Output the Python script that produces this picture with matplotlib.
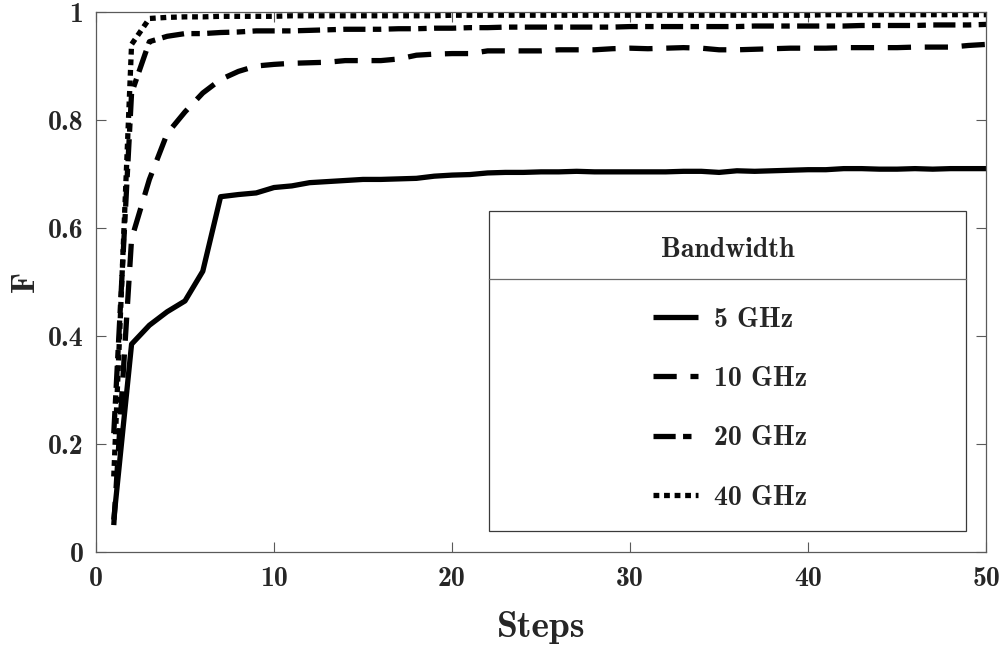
import matplotlib
matplotlib.use("Agg")
import matplotlib.pyplot as plt
from matplotlib.patches import Rectangle
from matplotlib.lines import Line2D

steps = list(range(1, 51))

f_5ghz = [0.06, 0.385, 0.42, 0.445, 0.465, 0.52, 0.658, 0.662, 0.665, 0.675,
          0.678, 0.684, 0.686, 0.688, 0.690, 0.690, 0.691, 0.692, 0.696, 0.698,
          0.699, 0.702, 0.703, 0.703, 0.704, 0.704, 0.705, 0.704, 0.704, 0.704,
          0.704, 0.704, 0.705, 0.705, 0.703, 0.706, 0.705, 0.706, 0.707, 0.708,
          0.708, 0.710, 0.710, 0.709, 0.709, 0.710, 0.709, 0.710, 0.710, 0.710]

f_10ghz = [0.05, 0.58, 0.69, 0.775, 0.815, 0.85, 0.875, 0.89, 0.90, 0.903,
           0.905, 0.906, 0.907, 0.910, 0.910, 0.910, 0.913, 0.920, 0.922, 0.923,
           0.923, 0.928, 0.928, 0.928, 0.928, 0.930, 0.930, 0.930, 0.932, 0.933,
           0.932, 0.933, 0.934, 0.933, 0.930, 0.930, 0.931, 0.932, 0.933, 0.933,
           0.933, 0.934, 0.934, 0.934, 0.934, 0.935, 0.935, 0.935, 0.938, 0.940]

f_20ghz = [0.22, 0.85, 0.945, 0.955, 0.960, 0.960, 0.962, 0.963, 0.965, 0.965,
           0.965, 0.966, 0.967, 0.968, 0.968, 0.968, 0.969, 0.969, 0.970, 0.970,
           0.971, 0.971, 0.972, 0.972, 0.972, 0.972, 0.972, 0.972, 0.972, 0.973,
           0.973, 0.973, 0.973, 0.973, 0.973, 0.973, 0.974, 0.974, 0.974, 0.974,
           0.974, 0.974, 0.975, 0.975, 0.975, 0.975, 0.976, 0.976, 0.976, 0.977]

f_40ghz = [0.14, 0.94, 0.988, 0.990, 0.991, 0.991, 0.992, 0.992, 0.992, 0.992,
           0.993, 0.993, 0.993, 0.993, 0.993, 0.993, 0.993, 0.993, 0.993, 0.994,
           0.994, 0.994, 0.994, 0.994, 0.994, 0.994, 0.994, 0.994, 0.994, 0.994,
           0.994, 0.994, 0.994, 0.994, 0.994, 0.994, 0.994, 0.994, 0.994, 0.994,
           0.995, 0.995, 0.995, 0.995, 0.995, 0.995, 0.995, 0.995, 0.995, 0.995]

labels = ["5 GHz", "10 GHz", "20 GHz", "40 GHz"]
x_ticks = [0, 10, 20, 30, 40, 50]
y_ticks = [0, 0.2, 0.4, 0.6, 0.8, 1]
y_ticklabels = ["0", "0.2", "0.4", "0.6", "0.8", "1"]

FONT = "cmb10"
TXT = "#262626"
LW = 3.8

fig = plt.figure(figsize=(10.07, 6.48), dpi=100)
ax = fig.add_axes([0.0953, 0.148, 0.884, 0.8335])

styles = [
    "-",
    (0, (4.4, 2.6)),
    (0, (4.2, 1.4, 1.6, 1.4)),
    (0, (1.1, 0.9)),
]
series = [f_5ghz, f_10ghz, f_20ghz, f_40ghz]
handles = []
for vals, ls, lab in zip(series, styles, labels):
    h, = ax.plot(steps, vals, color="black", lw=LW, linestyle=ls,
                 solid_capstyle="butt", dash_capstyle="butt", label=lab)
    handles.append(h)

ax.set_xlim(0, 50)
ax.set_ylim(0, 1)
ax.set_xticks(x_ticks)
ax.set_yticks(y_ticks)
ax.set_xticklabels([str(t) for t in x_ticks])
ax.set_yticklabels(y_ticklabels)
ax.tick_params(direction="in", length=7, width=0.8, color="#5a5a5a",
               top=True, right=True, labelsize=20, labelcolor=TXT)
ax.tick_params(axis="x", pad=10)
ax.tick_params(axis="y", pad=9)
for lbl in ax.get_xticklabels() + ax.get_yticklabels():
    lbl.set_fontfamily(FONT)
for sp in ax.spines.values():
    sp.set_color("#5a5a5a")
    sp.set_linewidth(0.9)

ax.set_xlabel("Steps", fontfamily=FONT, fontsize=27, color=TXT, labelpad=14)
ax.set_ylabel("F", fontfamily=FONT, fontsize=24, color=TXT, labelpad=6)

# legend box with a title row separated by a rule
x0, x1, y0, y1, ysep = 0.4416, 0.9775, 0.039, 0.631, 0.5056
ax.add_patch(Rectangle((x0, y0), x1 - x0, y1 - y0, transform=ax.transAxes,
                       facecolor="white", edgecolor="#3a3a3a", lw=0.9, zorder=5))
ax.add_line(Line2D([x0, x1], [ysep, ysep], transform=ax.transAxes,
                   color="#6a6a6a", lw=0.9, zorder=6))
ax.text((x0 + x1) / 2, 0.559, "Bandwidth", transform=ax.transAxes,
        ha="center", va="center", fontfamily=FONT, fontsize=20, color=TXT, zorder=7)
leg = ax.legend(handles=handles, loc="upper center",
                bbox_to_anchor=((x0 + x1) / 2 + 0.003, 0.480),
                frameon=False, prop={"family": FONT, "size": 20},
                handlelength=1.6, handletextpad=0.6, labelspacing=1.2,
                borderpad=0)
leg.set_zorder(8)
for t in leg.get_texts():
    t.set_color(TXT)

fig.savefig("out.png", dpi=100)
